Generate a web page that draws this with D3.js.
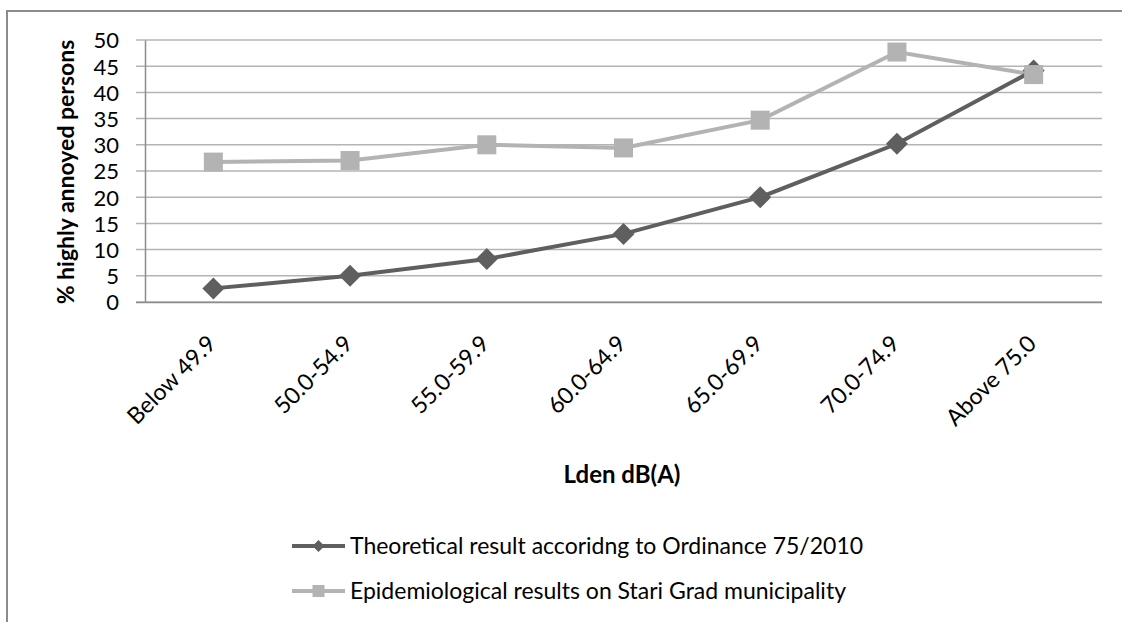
<!DOCTYPE html>
<html>
<head>
<meta charset="utf-8">
<script src="https://cdn.jsdelivr.net/npm/d3@7"></script>
<style>
  body { margin: 0; background: #fff; }
  text { font-family: Lato, "Noto Sans", sans-serif; fill: #000; }
</style>
</head>
<body>
<script>
// categories and series
var categories = ["Below 49.9", "50.0-54.9", "55.0-59.9", "60.0-64.9", "65.0-69.9", "70.0-74.9", "Above 75.0"];
var theoretical = [2.6, 5.0, 8.2, 13.0, 20.0, 30.2, 44.2];
var epidemiological = [26.7, 27.0, 30.0, 29.4, 34.7, 47.7, 43.4];
var yTicks = [0, 5, 10, 15, 20, 25, 30, 35, 40, 45, 50];
var seriesNames = ["Theoretical result accoridng to Ordinance 75/2010", "Epidemiological results on Stari Grad municipality"];

var width = 1122, height = 622;

var svg = d3.select("body").append("svg")
    .attr("width", width)
    .attr("height", height);

// outer chart border (only top and left show)
svg.append("path")
    .attr("d", "M7,622 V11 H1122")
    .attr("fill", "none")
    .attr("stroke", "#8c8c8c")
    .attr("stroke-width", 2);

var xScale = d3.scaleBand()
    .domain(categories)
    .range([145, 1102]);

var yScale = d3.scaleLinear()
    .domain([0, 50])
    .range([302, 40]);

// gridlines
svg.append("g")
    .selectAll("line")
    .data(yTicks)
    .enter().append("line")
    .attr("x1", 136)
    .attr("x2", 1102)
    .attr("y1", function (d) { return yScale(d); })
    .attr("y2", function (d) { return yScale(d); })
    .attr("stroke", "#b4b4b4")
    .attr("stroke-width", 1.5);

// y axis
var yAxis = d3.axisLeft(yScale).tickValues(yTicks).tickSize(0).tickPadding(26);
var yAxisGroup = svg.append("g")
    .attr("transform", "translate(145,0)")
    .call(yAxis);
yAxisGroup.select(".domain").attr("stroke", "#8c8c8c").attr("stroke-width", 1.5);
yAxisGroup.selectAll("text")
    .style("font-size", "22px")
    .attr("fill", "#000")
    .attr("dy", "0.36em");

// x axis
var xAxis = d3.axisBottom(xScale).tickSize(0).tickSizeOuter(0);
var xAxisGroup = svg.append("g")
    .attr("transform", "translate(0,302)")
    .call(xAxis);
xAxisGroup.select(".domain").attr("stroke", "#8c8c8c").attr("stroke-width", 1.5)
    .attr("d", "M136,0.5H1102");
xAxisGroup.selectAll("text")
    .style("font-size", "23px")
    .attr("fill", "#000")
    .attr("text-anchor", "end")
    .attr("y", 0)
    .attr("dy", 0)
    .attr("transform", "translate(4,43) rotate(-45)");

// axis titles
svg.append("text")
    .attr("transform", "translate(74,172) rotate(-90)")
    .attr("text-anchor", "middle")
    .style("font-size", "23px")
    .style("font-weight", "bold")
    .text("% highly annoyed persons");

svg.append("text")
    .attr("x", 622)
    .attr("y", 483)
    .attr("text-anchor", "middle")
    .style("font-size", "24px")
    .style("font-weight", "bold")
    .text("Lden dB(A)");

function cx(i) { return xScale(categories[i]) + xScale.bandwidth() / 2; }

var line = d3.line()
    .x(function (d, i) { return cx(i); })
    .y(function (d) { return yScale(d); });

var darkColor = "#5f5f5f", lightColor = "#b3b3b3";

// epidemiological (light, squares)
svg.append("path")
    .datum(epidemiological)
    .attr("d", line)
    .attr("fill", "none")
    .attr("stroke", lightColor)
    .attr("stroke-width", 4);

// theoretical (dark, diamonds)
svg.append("path")
    .datum(theoretical)
    .attr("d", line)
    .attr("fill", "none")
    .attr("stroke", darkColor)
    .attr("stroke-width", 4);

function diamond(r) { return "M0," + (-r) + "L" + r + ",0L0," + r + "L" + (-r) + ",0Z"; }

svg.append("g")
    .selectAll("path")
    .data(theoretical)
    .enter().append("path")
    .attr("d", diamond(11))
    .attr("transform", function (d, i) { return "translate(" + cx(i) + "," + yScale(d) + ")"; })
    .attr("fill", darkColor);

svg.append("g")
    .selectAll("rect")
    .data(epidemiological)
    .enter().append("rect")
    .attr("x", function (d, i) { return cx(i) - 9.5; })
    .attr("y", function (d) { return yScale(d) - 9.5; })
    .attr("width", 19)
    .attr("height", 19)
    .attr("fill", lightColor);

// legend
var legend = svg.append("g");
var legendY = [546, 591];
[darkColor, lightColor].forEach(function (c, i) {
    var y = legendY[i];
    legend.append("line")
        .attr("x1", 292).attr("x2", 345)
        .attr("y1", y).attr("y2", y)
        .attr("stroke", c).attr("stroke-width", 4);
    if (i == 0) {
        legend.append("path").attr("d", diamond(6))
            .attr("transform", "translate(318.5," + y + ")")
            .attr("fill", c);
    } else {
        legend.append("rect")
            .attr("x", 312.5).attr("y", y - 6)
            .attr("width", 12).attr("height", 12)
            .attr("fill", c);
    }
    legend.append("text")
        .attr("x", 350)
        .attr("y", y + 8)
        .style("font-size", "23px")
        .text(seriesNames[i]);
});
</script>
</body>
</html>
